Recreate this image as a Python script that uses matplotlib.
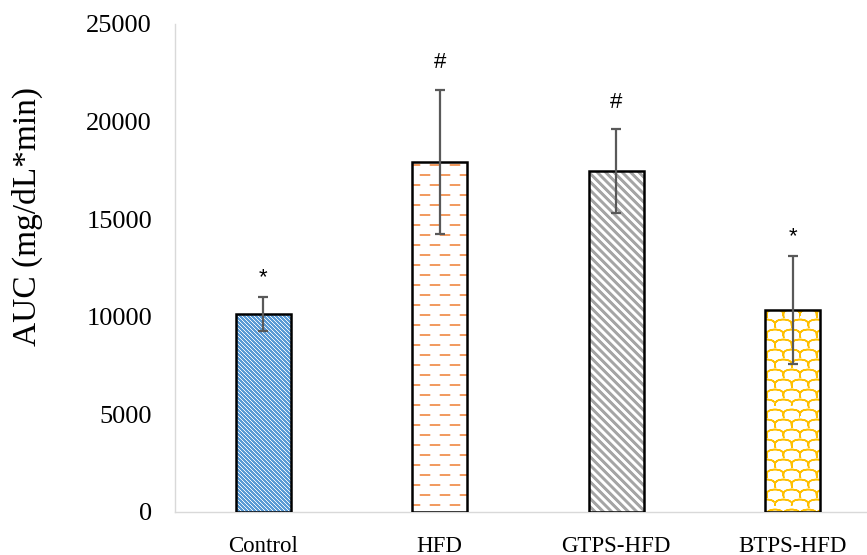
import warnings
import numpy as np
import matplotlib
matplotlib.use('Agg')
import matplotlib.pyplot as plt
import matplotlib.hatch as mhatch
from matplotlib.path import Path

warnings.filterwarnings('ignore')

groups = ['Control', 'HFD', 'GTPS-HFD', 'BTPS-HFD']
auc_mean = [10150, 17930, 17470, 10350]
auc_err = [870, 3690, 2130, 2770]
marks = ['*', '#', '#', '*']
colors = ['#5B9BD5', '#ED7D31', '#A5A5A5', '#FFC000']
hatches = ['b', 'd', 'g', 's']


# custom hatch patterns, one hatch tile = 1 inch (100 px at dpi 100)
class Diagonal(mhatch.HatchPatternBase):
    # down-right stripes; each stripe built from a few parallel strokes
    char = 'b'
    n = 25
    subs = (-0.002, 0.002)

    def __init__(self, hatch, density):
        self.on = self.char in hatch
        count = (2 * self.n + 1) * len(self.subs)
        self.num_vertices = count * 2 if self.on else 0

    def set_vertices_and_codes(self, vertices, codes):
        c = np.arange(2 * self.n + 1) / self.n
        c = (c[:, None] + np.array(self.subs)[None, :]).ravel()
        vertices[0::2, 0] = 0.0
        vertices[0::2, 1] = c
        vertices[1::2, 0] = 1.0
        vertices[1::2, 1] = c - 1.0
        codes[0::2] = Path.MOVETO
        codes[1::2] = Path.LINETO


class ThickDiagonal(Diagonal):
    char = 'g'
    n = 12
    subs = (-0.01, 0.0, 0.01)


class Dashes(mhatch.HatchPatternBase):
    def __init__(self, hatch, density):
        self.on = 'd' in hatch
        self.num_vertices = 10 * 5 * 2 if self.on else 0

    def set_vertices_and_codes(self, vertices, codes):
        k = 0
        for r in range(10):
            y = (r + 0.5) / 10
            shift = 0.1 if r % 2 else 0.0
            for j in range(5):
                x0 = j / 5 + shift + 0.005
                vertices[k] = (x0, y)
                vertices[k + 1] = (x0 + 0.09, y)
                codes[k] = Path.MOVETO
                codes[k + 1] = Path.LINETO
                k += 2


class Scales(mhatch.HatchPatternBase):
    def __init__(self, hatch, density):
        self.on = 's' in hatch
        self.m = 12
        self.num_vertices = 11 * 8 * 2 * self.m if self.on else 0

    def set_vertices_and_codes(self, vertices, codes):
        t = np.linspace(0, np.pi, self.m)
        w = 1 / 6
        k = 0
        for r in range(-1, 10):
            y0 = (r + 0.5) / 10
            shift = w / 2 if r % 2 else 0.0
            for j in range(-1, 7):
                x0 = j * w + shift
                arc = np.column_stack([x0 + w / 2 * (1 - np.cos(t)),
                                       y0 + 0.055 * np.sin(t) ** 0.7])
                vertices[k:k + 2 * self.m] = np.vstack([arc, arc[::-1]])
                codes[k] = Path.MOVETO
                codes[k + 1:k + 2 * self.m] = Path.LINETO
                k += 2 * self.m


mhatch._hatch_types.extend([Diagonal, ThickDiagonal, Dashes, Scales])

plt.rcParams['font.family'] = ['Liberation Serif', 'DejaVu Serif']
plt.rcParams['hatch.linewidth'] = 1.1

fig = plt.figure(figsize=(8.67, 5.55), dpi=100)
ax = fig.add_axes([0.2018, 0.0775, 0.8143, 0.8793])

x = np.arange(len(groups))
for i in range(len(groups)):
    ax.bar(x[i], auc_mean[i], width=0.31, color='white', edgecolor=colors[i],
           linewidth=0, hatch=hatches[i], zorder=2)
ax.bar(x, auc_mean, width=0.31, fill=False, edgecolor='black',
       linewidth=1.8, zorder=3)
ax.errorbar(x, auc_mean, yerr=auc_err, fmt='none', ecolor='#595959',
            elinewidth=1.6, capsize=3.8, capthick=1.6, zorder=4)

offsets = {'#': 12, '*': 6}
for i in range(len(groups)):
    ax.annotate(marks[i], (x[i], auc_mean[i] + auc_err[i]),
                xytext=(0, offsets[marks[i]]), textcoords='offset points',
                ha='center', va='bottom', fontsize=16,
                family=['Liberation Sans', 'DejaVu Sans'])

ax.set_xlim(-0.5, 3.5)
ax.set_ylim(0, 25000)
ax.set_yticks(np.arange(0, 25001, 5000))
ax.set_xticks(x)
ax.set_xticklabels(groups)
ax.tick_params(axis='y', length=0, pad=16.5, labelsize=19)
ax.tick_params(axis='x', length=0, pad=17, labelsize=16.5)
for side in ['top', 'right']:
    ax.spines[side].set_visible(False)
for side in ['left', 'bottom']:
    ax.spines[side].set_color('#D9D9D9')
    ax.spines[side].set_linewidth(1.0)

fig.text(27 / 867, 1 - 217 / 555, 'AUC (mg/dL*min)', rotation=90,
         ha='center', va='center', fontsize=24)

fig.savefig('out.png', dpi=100)
